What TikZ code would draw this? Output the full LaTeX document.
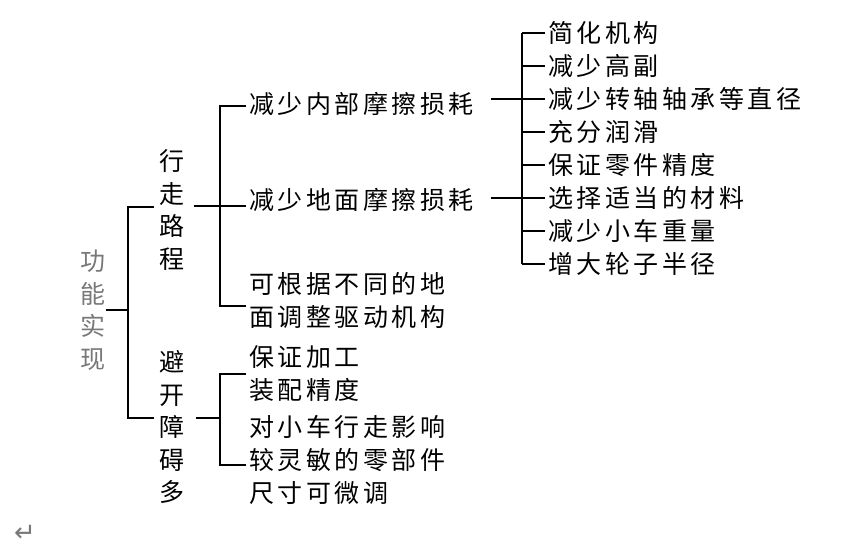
\documentclass[tikz,border=0pt]{standalone}
\usepackage{fontspec}
\newfontfamily\cjk[LetterSpace=14]{Noto Sans CJK SC}
\newfontfamily\cjkv{Noto Sans CJK SC}
\newfontfamily\retfont{DejaVu Sans}
\definecolor{rootgray}{RGB}{120,120,120}
\tikzset{
	item/.style={font=\cjk\fontsize{25}{33}\selectfont, anchor=west, inner sep=0pt, align=left},
	column/.style={font=\cjkv\fontsize{25}{32.5}\selectfont, inner sep=0pt, align=center},
	bar/.style={line width=1.2pt}
}

\begin{document}
\begin{tikzpicture}[x=1pt,y=-1pt]
	\useasboundingbox (0,0) rectangle (852,546);
	
	% vertical words
	\node[column, text=rootgray] (root) at (93,310) {功\\能\\实\\现};
	\node[column] (walk) at (172,210) {行\\走\\路\\程};
	\node[column] (avoid) at (172,427) {避\\开\\障\\碍\\多};
	
	% bus lines
	\coordinate (b1) at (128,0);
	\coordinate (b2) at (220,0);
	\coordinate (b3) at (522,0);
	
	% second level
	\node[item] (inner) at (249,104) {减少内部摩擦损耗};
	\node[item] (ground) at (249,200) {减少地面摩擦损耗};
	\node[item] (adjust) at (249,300) {可根据不同的地\\面调整驱动机构};
	\node[item] (precise) at (249,374) {保证加工\\装配精度};
	\node[item] (sens) at (249,460) {对小车行走影响\\较灵敏的零部件\\尺寸可微调};
	
	% third level
	\foreach \t [count=\i] in {简化机构,减少高副,减少转轴轴承等直径,充分润滑,保证零件精度,选择适当的材料,减少小车重量,增大轮子半径}
		\node[item] (leaf\i) at (548,{33*\i}) {\t};
	
	\node[text=rootgray, font=\retfont\fontsize{26}{26}\selectfont, inner sep=0pt] (ret) at (25,533) {↵};
	
	% root bracket
	\coordinate (wl) at ([xshift=-5pt,yshift=3pt]walk.west);
	\coordinate (al) at ([xshift=-5pt,yshift=9pt]avoid.west);
	\draw[bar] (root.east) -- (root.east -| b1);
	\draw[bar] (wl) -- (wl -| b1) -- (al -| b1) -- (al);
	
	% walk bracket
	\coordinate (wr) at ([xshift=9pt,yshift=4pt]walk.east);
	\coordinate (it) at ([xshift=-3pt,yshift=-2pt]inner.west);
	\coordinate (gt) at ([xshift=-3pt,yshift=-6pt]ground.west);
	\coordinate (at) at ([xshift=-3pt,yshift=-6pt]adjust.west);
	\draw[bar] (wr) -- (wr -| b2);
	\draw[bar] (it) -- (it -| b2) -- (at -| b2) -- (at);
	\draw[bar] (gt) -- (gt -| b2);
	
	% avoid bracket
	\coordinate (ar) at ([xshift=11pt,yshift=9pt]avoid.east);
	\coordinate (pt) at ([xshift=-3pt]precise.west);
	\coordinate (st) at ([xshift=-3pt,yshift=-5pt]sens.west);
	\draw[bar] (ar) -- (ar -| b2);
	\draw[bar] (pt) -- (pt -| b2) -- (st -| b2) -- (st);
	
	% leaf bracket
	\coordinate (ie) at ([xshift=17pt]inner.east);
	\coordinate (ge) at ([xshift=17pt]ground.east);
	\draw[bar] (ie |- leaf3.west) -- (b3 |- leaf3.west);
	\draw[bar] (ge |- leaf6.west) -- (b3 |- leaf6.west);
	\draw[bar] (b3 |- leaf1.west) -- (b3 |- leaf8.west);
	\foreach \i in {1,...,8}
		\draw[bar] (b3 |- leaf\i.west) -- ([xshift=-3pt]leaf\i.west);
	
\end{tikzpicture}
\end{document}
